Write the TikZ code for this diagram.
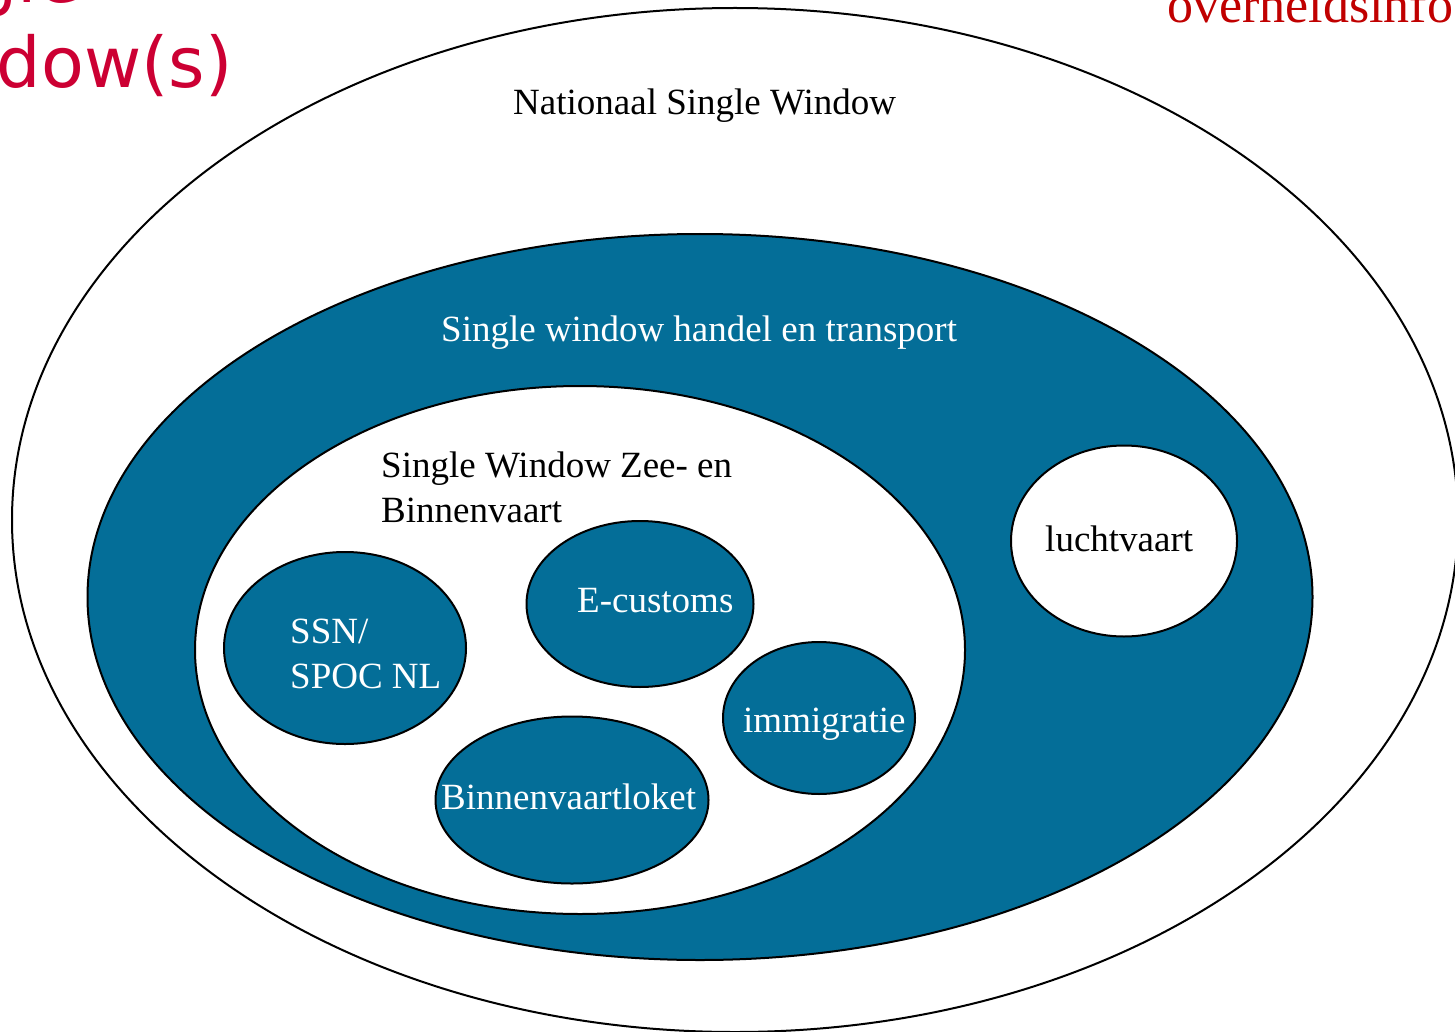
\documentclass[tikz,border=0pt]{standalone}
\usepackage{fontspec}
\setmainfont{Liberation Serif}
\newfontfamily\kopfont{DejaVu Sans}
\usepackage{tikz}
\usetikzlibrary{shapes.geometric}
\definecolor{swblauw}{RGB}{4,110,152}
\definecolor{kopkleur}{RGB}{204,0,51}
\definecolor{bronkleur}{RGB}{192,0,0}
\tikzset{
  venster/.style={
    ellipse,
    draw=black, line width=2pt,
    inner sep=0pt},
  wit/.style={venster, fill=white},
  blauw/.style={venster, fill=swblauw},
  tekst/.style={
    font=\fontsize{37}{45}\selectfont,
    inner sep=0pt,
    anchor=base west,
    align=left},
  witte tekst/.style={tekst, text=white},
  kop/.style={
    font=\kopfont\fontsize{70}{85}\selectfont,
    text=kopkleur,
    inner sep=0pt,
    anchor=base west,
    align=left},
  bron/.style={
    font=\fontsize{52}{60}\selectfont,
    text=bronkleur,
    inner sep=0pt,
    anchor=base west},
}

\begin{document}
\begin{tikzpicture}
  [x=1pt, y=-1pt]
  \useasboundingbox (0,0) rectangle (1455,1032);
  \clip (0,0) rectangle (1455,1032);
     % ellipsen
     \node[wit, minimum width=1446, minimum height=1024] (nationaal) at (735,520) {};
     \node[blauw, minimum width=1225, minimum height=726] (handel) at (700,597) {};
     \node[wit, minimum width=770, minimum height=528] (zeevaart) at (580,650) {};
     \node[wit, minimum width=226, minimum height=191] (lucht) at (1124,541) {};
     \node[blauw, minimum width=242, minimum height=192] (ssn) at (345,648) {};
     \node[blauw, minimum width=227, minimum height=166] (ecustoms) at (640,604) {};
     \node[blauw, minimum width=192, minimum height=152] (immigratie) at (819,718) {};
     \node[blauw, minimum width=273, minimum height=167] (loket) at (572,800) {};
     % teksten (base = laatste regel)
     \node[tekst] (t-nationaal) at (513,115) {Nationaal Single Window};
     \node[witte tekst] (t-handel) at (441,341) {Single window handel en transport};
     \node[tekst] (t-zeevaart) at (381,522) {Single Window Zee- en\\Binnenvaart};
     \node[tekst] (t-lucht) at (1045,551) {luchtvaart};
     \node[witte tekst] (t-ssn) at (290,688) {SSN/\\SPOC NL};
     \node[witte tekst] (t-ecustoms) at (577,612) {E-customs};
     \node[witte tekst] (t-immigratie) at (743,732) {immigratie};
     \node[witte tekst] (t-loket) at (441,809) {Binnenvaartloket};
     % randen van de dia
     \node[kop] (titel) at (-135,88) {Single\\Window(s)};
     \node[bron] (bron) at (1167,23) {overheidsinfo};
\end{tikzpicture}
\end{document}
